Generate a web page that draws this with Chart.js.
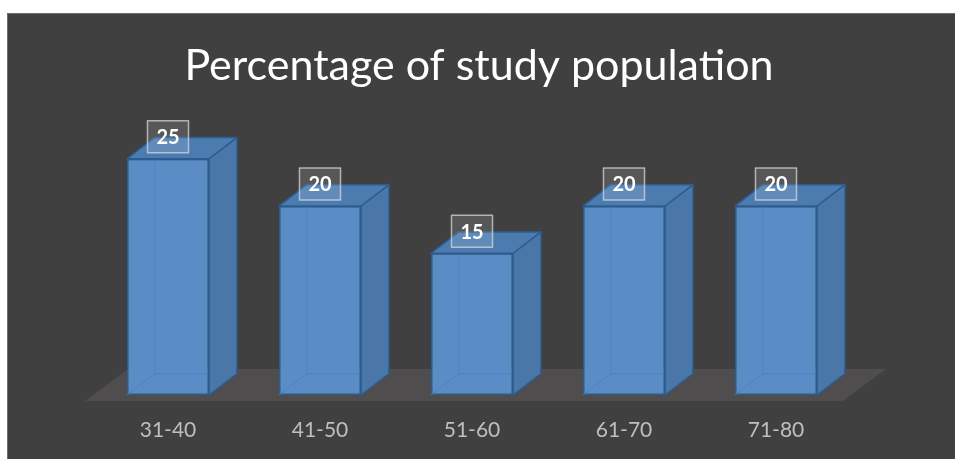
<!DOCTYPE html>
<html>
<head>
<meta charset="utf-8">
<script src="https://cdn.jsdelivr.net/npm/chart.js@4.4.1/dist/chart.umd.min.js"></script>
<style>
  html, body { margin: 0; padding: 0; background: #ffffff; }
  #wrap { position: relative; width: 955px; height: 459px; }
</style>
</head>
<body>
<div id="wrap"><canvas id="barChart"></canvas></div>
<script>
const categories = ['31-40', '41-50', '51-60', '61-70', '71-80'];
const percentages = [25, 20, 15, 20, 20];
const chartTitle = 'Percentage of study population';

// draws the dark panel, the title, the floor, the side/top faces and the value boxes
const fake3d = {
  id: 'fake3d',
  beforeDraw(chart) {
    const c = chart.ctx;
    c.save();
    c.fillStyle = '#ffffff';
    c.fillRect(0, 0, chart.width, chart.height);
    c.fillStyle = '#404040';
    c.fillRect(7, 13, chart.width - 7, chart.height - 13);
    c.strokeStyle = '#6e6e6e';
    c.lineWidth = 1;
    c.beginPath();
    c.moveTo(7.5, chart.height);
    c.lineTo(7.5, 13.5);
    c.lineTo(chart.width, 13.5);
    c.stroke();
    // title, centred on the panel
    c.fillStyle = '#ffffff';
    c.font = '43px Lato';
    c.textAlign = 'center';
    c.textBaseline = 'middle';
    c.fillText(chartTitle, 479, 66);
    c.restore();
  },
  beforeDatasetsDraw(chart) {
    const c = chart.ctx;
    const area = chart.chartArea;
    const zero = chart.scales.y.getPixelForValue(0);
    c.save();
    c.fillStyle = '#4f4d4e';
    c.beginPath();
    c.moveTo(area.left - 7, zero + 6);
    c.lineTo(area.right - 9, zero + 6);
    c.lineTo(area.right + 34, zero - 26);
    c.lineTo(area.left + 36, zero - 26);
    c.closePath();
    c.fill();
    c.restore();
  },
  afterDatasetsDraw(chart) {
    const c = chart.ctx;
    const meta = chart.getDatasetMeta(0);
    c.save();
    meta.data.forEach((bar, i) => {
      const x1 = bar.x - bar.width / 2;
      const x2 = bar.x + bar.width / 2;
      const top = bar.y;
      const base = bar.base;
      const dx = bar.width * 0.34;
      const dy = bar.width * 0.26;

      // hidden back edges seen through the front
      c.strokeStyle = 'rgba(70,130,200,0.8)';
      c.lineWidth = 1;
      c.beginPath();
      c.moveTo(x1 + dx, top - dy);
      c.lineTo(x1 + dx, base - dy);
      c.lineTo(x2 + dx, base - dy);
      c.moveTo(x1, base);
      c.lineTo(x1 + dx, base - dy);
      c.stroke();

      c.lineJoin = 'round';
      c.strokeStyle = '#2b5d92';
      c.lineWidth = 1.5;
      // side face
      c.fillStyle = '#4a77a7';
      c.beginPath();
      c.moveTo(x2, top);
      c.lineTo(x2 + dx, top - dy);
      c.lineTo(x2 + dx, base - dy);
      c.lineTo(x2, base);
      c.closePath();
      c.fill();
      c.stroke();
      // top face
      c.fillStyle = '#4c7bb0';
      c.beginPath();
      c.moveTo(x1, top);
      c.lineTo(x2, top);
      c.lineTo(x2 + dx, top - dy);
      c.lineTo(x1 + dx, top - dy);
      c.closePath();
      c.fill();
      c.stroke();
    });
    // value boxes
    c.font = 'bold 20px Lato';
    c.textAlign = 'center';
    c.textBaseline = 'middle';
    meta.data.forEach((bar, i) => {
      const cx = bar.x;
      const cy = bar.y - 22;
      c.fillStyle = 'rgba(255,255,255,0.12)';
      c.fillRect(cx - 20.5, cy - 16, 41, 32);
      c.strokeStyle = 'rgba(215,215,215,0.75)';
      c.lineWidth = 1.5;
      c.strokeRect(cx - 20.5, cy - 16, 41, 32);
      c.fillStyle = '#ffffff';
      c.fillText(String(percentages[i]), cx, cy + 1);
    });
    c.restore();
  }
};

const ctx = document.getElementById('barChart');
new Chart(ctx, {
  type: 'bar',
  data: {
    labels: categories,
    datasets: [{
      label: 'Percentage',
      data: percentages,
      backgroundColor: '#5a8dc6',
      borderColor: '#2b5d92',
      borderWidth: 1.5,
      borderSkipped: false,
      barPercentage: 0.54,
      categoryPercentage: 1
    }]
  },
  options: {
    responsive: true,
    maintainAspectRatio: false,
    animation: false,
    layout: {
      padding: { left: 92, right: 103, top: 111.5, bottom: 15 }
    },
    plugins: {
      legend: { display: false },
      tooltip: { enabled: false },
      title: { display: false }
    },
    scales: {
      x: {
        grid: { display: false, drawTicks: false },
        border: { display: false },
        ticks: {
          color: '#bfbfbf',
          font: { family: 'Lato', size: 21 },
          padding: 23
        },
        afterFit(axis) { axis.height = 49; }
      },
      y: {
        display: false,
        min: 0,
        max: 30
      }
    }
  },
  plugins: [fake3d]
});
</script>
</body>
</html>
